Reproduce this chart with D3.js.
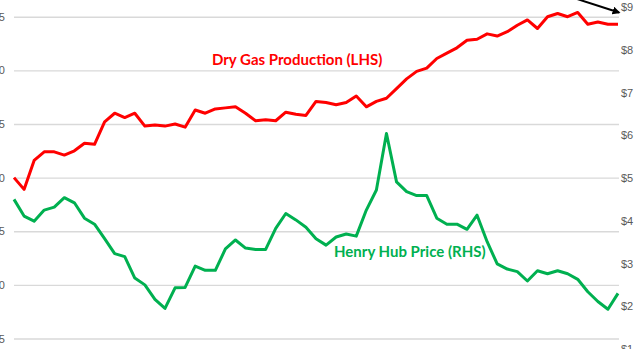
<!DOCTYPE html>
<html>
<head>
<meta charset="utf-8">
<script src="https://cdn.jsdelivr.net/npm/d3@7"></script>
<style>
  body { margin: 0; background: #fff; }
  svg { display: block; font-family: Lato, "Noto Sans", sans-serif; }
</style>
</head>
<body>
<div id="chart"></div>
<script>

// monthly points, Jan 2011 .. Jan 2016
let months = d3.range(61).map(function (i) {
  return new Date(2011, i, 1);
});

// dry gas production, left axis
let production = [
  60.0, 58.9, 61.6, 62.4, 62.4, 62.1, 62.5, 63.2, 63.1, 65.2, 66.0, 65.6,
  66.0, 64.8, 64.9, 64.8, 65.0, 64.7, 66.3, 66.0, 66.4, 66.5, 66.6, 66.0,
  65.3, 65.4, 65.3, 66.1, 65.9, 65.8, 67.1, 67.0, 66.8, 67.0, 67.6, 66.6,
  67.1, 67.4, 68.3, 69.2, 69.9, 70.2, 71.1, 71.6, 72.1, 72.8, 72.9, 73.4,
  73.2, 73.6, 74.2, 74.7, 73.9, 75.0, 75.3, 75.0, 75.4, 74.3, 74.5, 74.3,
  74.3
];

// Henry Hub price, right axis
let price = [
  4.50, 4.11, 3.99, 4.25, 4.32, 4.54, 4.42, 4.06, 3.92, 3.58, 3.23, 3.16,
  2.66, 2.50, 2.16, 1.95, 2.43, 2.44, 2.94, 2.84, 2.84, 3.34, 3.55, 3.36,
  3.33, 3.33, 3.82, 4.17, 4.02, 3.85, 3.58, 3.43, 3.62, 3.69, 3.64, 4.25,
  4.72, 6.04, 4.91, 4.68, 4.59, 4.59, 4.06, 3.92, 3.92, 3.80, 4.13, 3.51,
  2.99, 2.87, 2.81, 2.59, 2.83, 2.76, 2.83, 2.76, 2.63, 2.34, 2.11, 1.93,
  2.30
];

let leftTicks = [45, 50, 55, 60, 65, 70, 75];
let rightTicks = [1, 2, 3, 4, 5, 6, 7, 8, 9];

let width = 640, height = 349;
let plotLeft = 14, plotRight = 619;

let svg = d3.select("#chart").append("svg")
  .attr("width", width)
  .attr("height", height);

// scales
let x = d3.scalePoint()
  .domain(months)
  .range([plotLeft, 618]);

let yLeft = d3.scaleLinear()
  .domain([45, 75])
  .range([338.5, 16.7]);

let yRight = d3.scaleLinear()
  .domain([1, 9])
  .range([349, 7]);

// left axis + gridlines
let leftAxis = svg.append("g")
  .attr("transform", "translate(" + plotLeft + ",0)")
  .call(d3.axisLeft(yLeft)
    .tickValues(leftTicks)
    .tickSize(-(plotRight - plotLeft))
    .tickPadding(9));
leftAxis.select(".domain").remove();
leftAxis.selectAll("line")
  .attr("stroke", "#d9d9d9")
  .attr("stroke-width", 1.4);
leftAxis.selectAll("text")
  .attr("fill", "#595959")
  .style("font-size", "11px");

// right axis, labels only
let rightAxis = svg.append("g")
  .attr("transform", "translate(" + plotRight + ",0)")
  .call(d3.axisRight(yRight)
    .tickValues(rightTicks)
    .tickSize(0)
    .tickPadding(2)
    .tickFormat(function (d) { return "$" + d; }));
rightAxis.select(".domain").remove();
rightAxis.selectAll("text")
  .attr("fill", "#595959")
  .style("font-size", "11px");

// lines
let prodLine = d3.line()
  .x(function (d, i) { return x(months[i]); })
  .y(function (d) { return yLeft(d); });

let priceLine = d3.line()
  .x(function (d, i) { return x(months[i]); })
  .y(function (d) { return yRight(d); });

svg.append("path")
  .datum(price)
  .attr("fill", "none")
  .attr("stroke", "#00b050")
  .attr("stroke-width", 3)
  .attr("stroke-linejoin", "round")
  .attr("d", priceLine);

svg.append("path")
  .datum(production)
  .attr("fill", "none")
  .attr("stroke", "#ff0000")
  .attr("stroke-width", 3)
  .attr("stroke-linejoin", "round")
  .attr("d", prodLine);

// series labels
svg.append("text")
  .attr("x", 212)
  .attr("y", 65)
  .attr("fill", "#ff0000")
  .style("font-size", "15px")
  .style("font-weight", "bold")
  .text("Dry Gas Production (LHS)");

svg.append("text")
  .attr("x", 334)
  .attr("y", 257)
  .attr("fill", "#00b050")
  .style("font-size", "15px")
  .style("font-weight", "bold")
  .text("Henry Hub Price (RHS)");

// arrow pointing at the last price tick
svg.append("defs").append("marker")
  .attr("id", "head")
  .attr("viewBox", "0 0 10 10")
  .attr("refX", 8)
  .attr("refY", 5)
  .attr("markerWidth", 4)
  .attr("markerHeight", 4)
  .attr("orient", "auto")
  .append("path")
  .attr("d", "M0,0 L10,5 L0,10 z")
  .attr("fill", "#000");

svg.append("line")
  .attr("x1", 574)
  .attr("y1", -2)
  .attr("x2", 619)
  .attr("y2", 12.5)
  .attr("stroke", "#000")
  .attr("stroke-width", 2)
  .attr("marker-end", "url(#head)");

</script>
</body>
</html>
